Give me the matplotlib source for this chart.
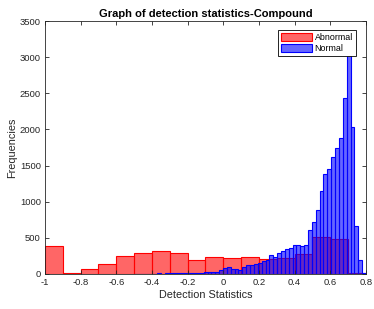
import numpy as np
import matplotlib
matplotlib.use("Agg")
import matplotlib.pyplot as plt

plt.rcParams['font.family'] = ['Liberation Sans', 'DejaVu Sans']

# Abnormal: 18 bins of width 0.1 from -1 to 0.8
abn_edges = np.linspace(-1.0, 0.8, 19)
abn_counts = [384, 3, 65, 129, 240, 282, 310, 291, 194, 226,
              213, 231, 203, 213, 268, 504, 476, 14]

# Normal: 60 bins from -0.5 to 0.8
nor_edges = np.linspace(-0.5, 0.8, 61)
nor_counts = [1, 1, 2, 1, 2, 2, 3, 2, 3, 4,
              4, 5, 6, 8, 10, 12, 14, 16, 18, 22,
              25, 28, 45, 74, 97, 65, 62, 51, 88, 115,
              120, 129, 152, 175, 194, 254, 235, 282, 314, 337,
              350, 397, 393, 385, 405, 605, 721, 878, 1150, 1380,
              1451, 1622, 1738, 1876, 2430, 3100, 2038, 662, 190, 5]

xticks = [-1, -0.8, -0.6, -0.4, -0.2, 0, 0.2, 0.4, 0.6, 0.8]
xticklabels = ['-1', '-0.8', '-0.6', '-0.4', '-0.2', '0', '0.2', '0.4', '0.6', '0.8']
yticks = np.arange(0, 3501, 500)

fig = plt.figure(figsize=(3.74, 3.09), dpi=100)
ax = fig.add_axes([0.1203, 0.1142, 0.8583, 0.8168])

ax.hist(abn_edges[:-1], bins=abn_edges, weights=abn_counts,
        facecolor=(1, 0, 0, 0.6), edgecolor=(1, 0, 0), linewidth=0.8,
        label='Abnormal')
ax.hist(nor_edges[:-1], bins=nor_edges, weights=nor_counts,
        facecolor=(0, 0, 1, 0.6), edgecolor=(0, 0, 1), linewidth=0.8,
        label='Normal')

ax.set_xlim(-1, 0.8)
ax.set_ylim(0, 3500)
ax.set_xticks(xticks)
ax.set_xticklabels(xticklabels)
ax.set_yticks(yticks)

dark = '#262626'
ax.tick_params(direction='in', top=True, right=True, length=3, width=0.6,
               labelsize=6.8, colors=dark, pad=3)
for s in ax.spines.values():
    s.set_color(dark)
    s.set_linewidth(0.6)

ax.set_xlabel('Detection Statistics', fontsize=7.8, color=dark, labelpad=2)
ax.set_ylabel('Frequencies', fontsize=7.8, color=dark, labelpad=2)
ax.set_title('Graph of detection statistics-Compound', fontsize=8,
             fontweight='bold', pad=3)

# legend box sits a little inside the top-right corner
leg = ax.legend(loc='upper right', bbox_to_anchor=(0.969, 0.9655),
                fontsize=6.4, fancybox=False, framealpha=1,
                edgecolor='black', handlelength=3.4, handleheight=1.05,
                borderpad=0.35, labelspacing=0.2, handletextpad=0.35,
                borderaxespad=0)
leg.get_frame().set_linewidth(0.6)

fig.savefig('out.png', dpi=100)
